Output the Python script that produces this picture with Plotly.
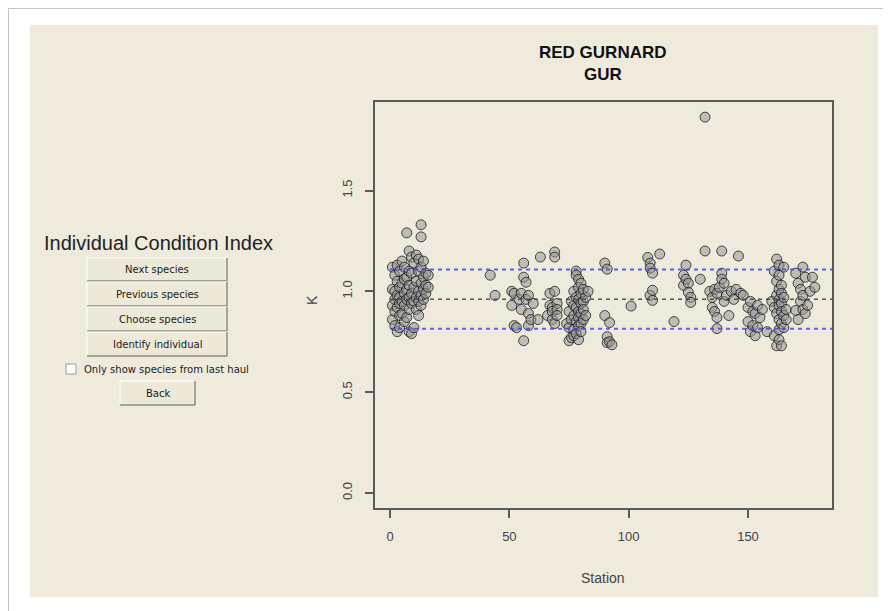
import plotly.graph_objects as go

# ---------------- data ----------------
stations = [1, 2, 3, 4, 5, 6, 7, 8, 9, 10, 11, 12, 13, 14, 15, 16,
            42, 44, 51, 52, 53, 54, 55, 56, 57, 58, 59, 60, 62,
            63, 66, 67, 68, 69, 70,
            74, 75, 76, 77, 78, 79, 80, 81, 82, 83,
            90, 91, 92, 93, 101, 108, 109, 110, 113,
            119, 123, 124, 125, 126, 130,
            132, 134, 135, 136, 137, 138, 139, 140, 141, 142, 143, 144, 145, 146, 147, 148,
            150, 151, 152, 153, 154, 155, 156, 158,
            160, 161, 162, 163, 164, 165, 166,
            170, 171, 172, 173, 174, 175, 176, 177, 178]

k_values = [
    [1.12, 1.01, 0.93, 0.86], [1.08, 1.00, 0.96, 0.90, 0.83], [1.13, 1.05, 0.98, 0.92, 0.80],
    [1.10, 1.02, 0.97, 0.94, 0.88, 0.82], [1.15, 1.04, 0.95, 0.89], [1.12, 1.06, 0.99, 0.93, 0.85],
    [1.29, 1.07, 1.01, 0.96, 0.87], [1.20, 1.10, 1.03, 0.97, 0.91, 0.80], [1.17, 1.09, 0.99, 0.94, 0.79],
    [1.14, 1.02, 0.95, 0.82], [1.18, 1.05, 0.97, 0.91], [1.16, 1.10, 1.00, 0.95, 0.88],
    [1.33, 1.27, 1.12, 1.04, 0.98, 0.93], [1.15, 1.07, 1.01, 0.96], [1.09, 1.03, 0.99], [1.08, 1.02],
    [1.08], [0.98], [1.00, 0.93], [0.99, 0.83], [0.82], [0.96], [0.99, 0.91], [1.14, 1.07, 0.755],
    [1.045, 0.96], [0.98, 0.89, 0.83], [0.86], [0.94], [0.86],
    [1.17], [0.88], [0.99, 0.93], [0.92, 0.90, 0.86], [1.195, 1.17, 1.00, 0.84], [0.94, 0.91, 0.88],
    [0.84], [0.90, 0.82, 0.755], [0.95, 0.86, 0.77], [1.00, 0.93, 0.88, 0.81, 0.78],
    [1.10, 1.08, 0.97, 0.92, 0.85, 0.79], [1.06, 1.02, 0.96, 0.90, 0.87, 0.83, 0.76],
    [1.04, 0.99, 0.94, 0.89, 0.84, 0.80], [1.01, 0.95, 0.91, 0.86], [0.97, 0.88], [1.00],
    [1.14, 0.88], [1.11, 0.775, 0.745], [0.845, 0.75], [0.735], [0.927],
    [1.168], [1.14, 1.115, 0.98], [1.09, 1.005, 0.955], [1.185],
    [0.85], [1.08, 1.03], [1.13, 1.06], [1.04, 0.995], [0.97, 0.945], [1.06],
    [1.864, 1.20], [1.00], [0.97, 0.92], [1.01, 0.90], [0.99, 0.87, 0.815], [1.02],
    [1.20, 1.09, 1.06], [1.04, 0.95], [0.98], [0.88], [1.00], [0.96], [1.01], [1.175], [0.99], [0.98],
    [0.92, 0.85], [0.95, 0.80], [0.90, 0.83], [0.89, 0.78], [0.93, 0.82], [0.87], [0.91], [0.80],
    [0.95], [1.10, 0.92, 0.78], [1.16, 1.05, 0.98, 0.89, 0.73],
    [1.13, 1.08, 1.01, 0.96, 0.93, 0.86, 0.81, 0.76], [1.03, 0.99, 0.94, 0.90, 0.84, 0.73],
    [1.12, 0.97, 0.88, 0.82], [0.91, 0.86],
    [1.09, 0.905], [1.04, 0.86], [1.01, 0.95], [1.12, 0.98, 0.91], [1.07, 0.89], [0.93], [1.00],
    [1.07], [1.02],
]

k_mean = 0.961
k_upper = 1.108
k_lower = 0.814

x_ticks = [0, 50, 100, 150]
y_ticks = [0.0, 0.5, 1.0, 1.5]
y_tick_text = ["0.0", "0.5", "1.0", "1.5"]

title_lines = ["RED GURNARD", "GUR"]
panel_title = "Individual Condition Index"
button_labels = ["Next species", "Previous species", "Choose species", "Identify individual"]
checkbox_label = "Only show species from last haul"
back_label = "Back"

# ---------------- layout geometry (page pixels) ----------------
PAGE_OFF = 8                      # default body margin of the html page
W_FIG, H_FIG = 891 - PAGE_OFF, 611 - PAGE_OFF
L, R, T, B = 375, 832, 102, 508   # plot frame in page pixels
PW, PH = R - L, B - T


def px(x):
    return (x - L) / PW


def py(y):
    return (B - y) / PH


xs, ys = [], []
for s, ks in zip(stations, k_values):
    for k in ks:
        xs.append(s)
        ys.append(k)

BEIGE = "#EEEADC"
FONT = "Liberation Sans, Arial, sans-serif"

fig = go.Figure()
fig.add_trace(go.Scatter(
    x=xs, y=ys, mode="markers",
    marker=dict(size=10, color="rgba(150,150,150,0.55)",
                line=dict(color="rgba(20,20,20,0.75)", width=1)),
    hoverinfo="x+y", showlegend=False))

for val, col, w in [(k_upper, "rgba(70,70,230,0.85)", 2),
                    (k_lower, "rgba(70,70,230,0.85)", 2),
                    (k_mean, "rgba(70,70,70,0.9)", 1.5)]:
    fig.add_trace(go.Scatter(x=[0, 200], y=[val, val], mode="lines",
                             line=dict(color=col, width=w, dash="4px,4px"),
                             hoverinfo="skip", showlegend=False))

shapes = []
# outer page border
shapes.append(dict(type="rect", xref="paper", yref="paper",
                   x0=px(8.5), x1=px(889), y0=py(612), y1=py(8.5),
                   line=dict(color="#c4c4c4", width=1), fillcolor="white", layer="below"))
# beige panel
shapes.append(dict(type="rect", xref="paper", yref="paper",
                   x0=px(30), x1=px(878), y0=py(597), y1=py(25),
                   line=dict(width=0), fillcolor=BEIGE, layer="below"))

annotations = []


def add_button(x0, x1, y0, y1, label):
    shapes.append(dict(type="rect", xref="paper", yref="paper",
                       x0=px(x0), x1=px(x1), y0=py(y1), y1=py(y0),
                       line=dict(width=0), fillcolor="#ECE9D8", layer="below"))
    shapes.append(dict(type="line", xref="paper", yref="paper",
                       x0=px(x0), x1=px(x1), y0=py(y0), y1=py(y0),
                       line=dict(color="#ffffff", width=1)))
    shapes.append(dict(type="line", xref="paper", yref="paper",
                       x0=px(x0), x1=px(x0), y0=py(y0), y1=py(y1),
                       line=dict(color="#ffffff", width=1)))
    shapes.append(dict(type="line", xref="paper", yref="paper",
                       x0=px(x0), x1=px(x1), y0=py(y1), y1=py(y1),
                       line=dict(color="#8c8a7c", width=1.5)))
    shapes.append(dict(type="line", xref="paper", yref="paper",
                       x0=px(x1), x1=px(x1), y0=py(y0), y1=py(y1),
                       line=dict(color="#8c8a7c", width=1.5)))
    annotations.append(dict(x=px((x0 + x1) / 2), y=py((y0 + y1) / 2), xref="paper", yref="paper",
                            text=label, showarrow=False,
                            font=dict(family="DejaVu Sans, sans-serif", size=10, color="#222"),
                            xanchor="center", yanchor="middle"))


btn_rows = [(258, 281), (282, 306), (307, 331), (332, 356)]
for (y0, y1), lab in zip(btn_rows, button_labels):
    add_button(87, 227, y0, y1, lab)
add_button(120, 195, 381, 405, back_label)

# checkbox
shapes.append(dict(type="rect", xref="paper", yref="paper",
                   x0=px(66), x1=px(76), y0=py(374), y1=py(364),
                   line=dict(color="#9a9a9a", width=1), fillcolor="#ffffff"))
annotations.append(dict(x=px(82), y=py(369), xref="paper", yref="paper",
                        text=checkbox_label, showarrow=False,
                        font=dict(family="DejaVu Sans, sans-serif", size=10, color="#222"),
                        xanchor="left", yanchor="middle"))

annotations.append(dict(x=px(158), y=py(243), xref="paper", yref="paper",
                        text=panel_title, showarrow=False,
                        font=dict(family=FONT, size=20, color="#222"),
                        xanchor="center", yanchor="middle"))

# plot title
annotations.append(dict(x=px(603), y=py(52), xref="paper", yref="paper",
                        text="<b>%s</b>" % title_lines[0], showarrow=False,
                        font=dict(family=FONT, size=17, color="#111"),
                        xanchor="center", yanchor="middle"))
annotations.append(dict(x=px(603), y=py(74), xref="paper", yref="paper",
                        text="<b>%s</b>" % title_lines[1], showarrow=False,
                        font=dict(family=FONT, size=17, color="#111"),
                        xanchor="center", yanchor="middle"))

# axis titles
annotations.append(dict(x=px(603), y=py(578), xref="paper", yref="paper",
                        text="Station", showarrow=False,
                        font=dict(family=FONT, size=14, color="#444"),
                        xanchor="center", yanchor="middle"))
annotations.append(dict(x=px(312), y=py(300), xref="paper", yref="paper",
                        text="K", showarrow=False, textangle=-90,
                        font=dict(family=FONT, size=14, color="#444"),
                        xanchor="center", yanchor="middle"))

axis_common = dict(showgrid=False, zeroline=False, showline=True, mirror=True,
                   linecolor="#5a5a5a", linewidth=1.5, ticks="outside", ticklen=8,
                   tickcolor="#5a5a5a", tickwidth=1.5,
                   tickfont=dict(family=FONT, size=13, color="#444"))

fig.update_layout(
    width=W_FIG, height=H_FIG,
    margin=dict(l=L - PAGE_OFF, r=W_FIG - (R - PAGE_OFF), t=T - PAGE_OFF, b=H_FIG - (B - PAGE_OFF)),
    paper_bgcolor="white", plot_bgcolor="rgba(0,0,0,0)",
    shapes=shapes, annotations=annotations,
    xaxis=dict(range=[-6.3, 185.2], tickvals=x_ticks, ticklabelstandoff=8, **axis_common),
    yaxis=dict(range=[-0.0746, 1.939], tickvals=y_ticks, ticktext=y_tick_text,
               tickangle=-90, ticklabelstandoff=8, **axis_common),
    showlegend=False,
)

fig.write_html("out.html")
